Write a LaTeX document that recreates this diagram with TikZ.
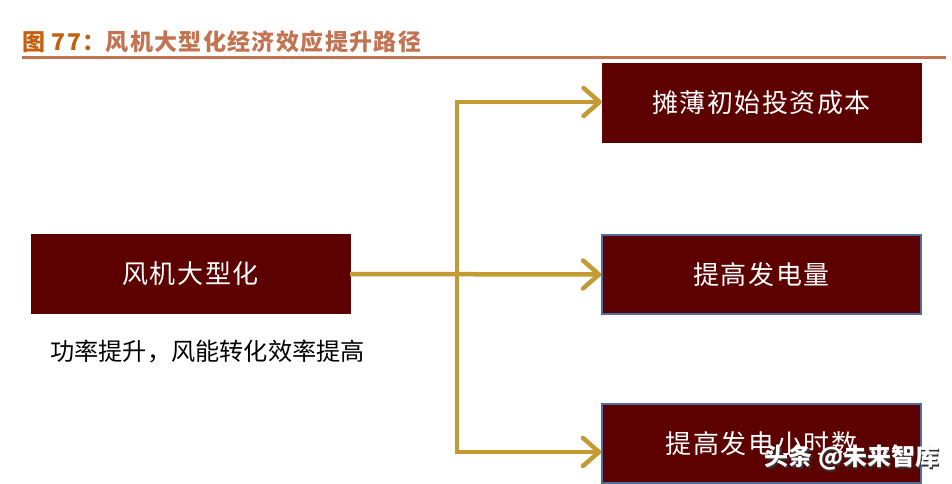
\documentclass[tikz,border=0pt]{standalone}
\usepackage{fontspec}
\usepackage{tikz}
\usetikzlibrary{arrows.meta}
\newfontfamily\cjk{Noto Sans CJK SC}
\newfontfamily\cjkwide{Noto Sans CJK SC}[LetterSpace=6]
\definecolor{boxred}{HTML}{5C0000}
\definecolor{gold}{HTML}{C49A33}
\definecolor{titleA}{HTML}{C4600F}
\definecolor{titleB}{HTML}{C27352}
\definecolor{edgeblue}{HTML}{4F6D9A}

\tikzset{
  redbox/.style={draw=boxred,fill=boxred,minimum width=319pt,minimum height=79pt,
    text=white,font=\cjkwide\fontsize{26}{30}\selectfont,inner sep=0pt},
  bluebox/.style={redbox,draw=edgeblue,line width=1.5pt},
  arr/.style={draw=gold,line width=4.5pt,-{Straight Barb[length=16pt,width=28pt,round]}}
}

\begin{document}
\begin{tikzpicture}[x=1pt,y=1pt]
\useasboundingbox (0,0) rectangle (952,483);
\node[anchor=west,inner sep=0pt] (title) at (22,441)
  {\cjkwide\bfseries\fontsize{23}{26}\selectfont\textcolor{titleA}{图 77：}\textcolor{titleB}{风机大型化经济效应提升路径}};
\draw[titleB,line width=3pt] (22,425) -- (946,425);
\node[redbox] (big) at (190.5,209) {风机大型化};
\node[anchor=west,inner sep=0pt,font=\cjk\fontsize{24.2}{27}\selectfont] (note) at (50,131) {功率提升，风能转化效率提高};
\node[redbox] (cost) at (761.5,380) {摊薄初始投资成本};
\node[bluebox] (power) at (761.5,208.5) {提高发电量};
\node[bluebox] (hours) at (761.5,39.5) {提高发电小时数};
\coordinate (split) at (457,209);
\draw[arr] (big.east) -- (power.west);
\draw[arr] (split) |- ([yshift=1pt]cost.west);
\draw[arr] (split) |- ([yshift=-8.5pt]hours.west);
% watermark
\node[font=\cjk\bfseries\fontsize{24}{27}\selectfont,text=black!80] (wmshadow) at (853.5,23.5) {头条 @未来智库};
\node[font=\cjk\bfseries\fontsize{24}{27}\selectfont,text=white] (wm) at (852,25) {头条 @未来智库};
\end{tikzpicture}
\end{document}
